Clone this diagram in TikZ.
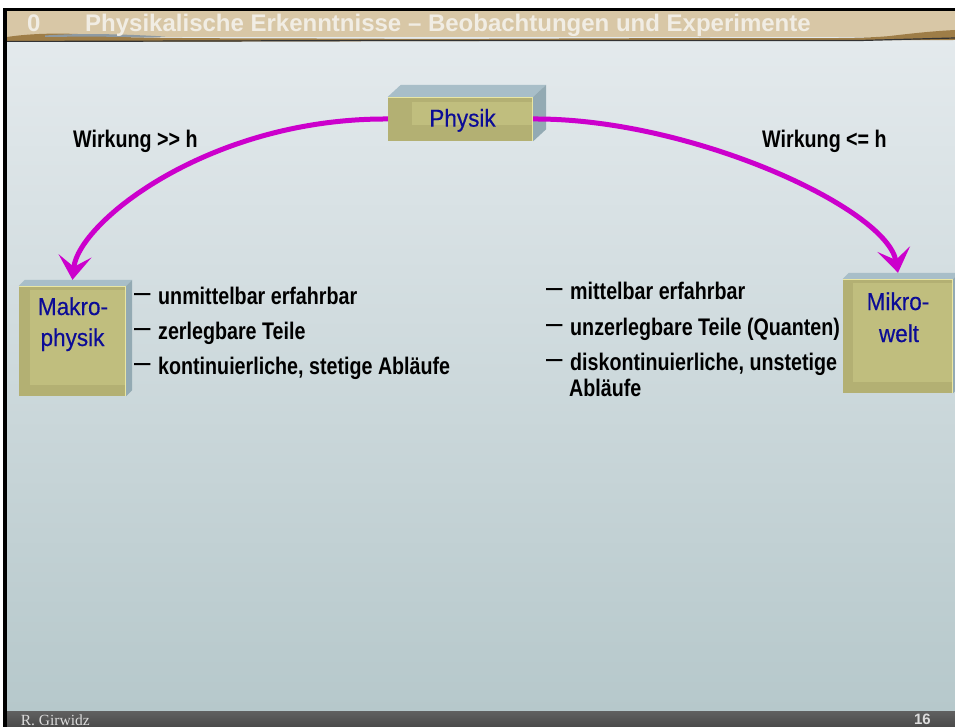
\documentclass[tikz,border=0pt]{standalone}
\usepackage{graphicx}
\usepackage{fontspec}
\setmainfont{Liberation Sans}
\newfontfamily\listfont{Liberation Sans}[FakeStretch=0.82]
\newfontfamily\boxfont{Liberation Sans}[FakeStretch=0.92,FakeBold=0.4]
\newfontfamily\footfont{Liberation Serif}
\usetikzlibrary{arrows.meta,calc}
\definecolor{bodytop}{HTML}{E4EAED}
\definecolor{bodybot}{HTML}{B6C8CB}
\definecolor{hdr}{HTML}{D8C7A6}
\definecolor{landbrown}{HTML}{9E7D47}
\definecolor{landgray}{HTML}{8E9AA2}
\definecolor{titlecol}{HTML}{F1EDE4}
\definecolor{foottop}{HTML}{606060}
\definecolor{footbot}{HTML}{4A4A4A}
\definecolor{footgray}{HTML}{DCDCDC}
\definecolor{cubefront}{HTML}{B3B073}
\definecolor{cubeinner}{HTML}{C0BE7E}
\definecolor{cubetop}{HTML}{A8BEC8}
\definecolor{cubeside}{HTML}{93AAB3}
\definecolor{cubeedge}{HTML}{E9E6A3}
\definecolor{bluetext}{HTML}{0C0C96}
\definecolor{magarrow}{HTML}{CC00CC}
\newcommand\ldash{\makebox[24pt][l]{\mdseries\raisebox{2pt}{\scalebox{1.5}[1.3]{–}}}}
\newcommand\boxfaces[6]{%
  \fill[cubetop] (#1.north west) -- ++(#2,-#3) -- ($(#1.north east)+(#2,-#3)$) -- (#1.north east) -- cycle;
  \fill[cubeside] (#1.north east) -- ++(#2,-#3) -- ($(#1.south east)+(#2,-#3)$) -- (#1.south east) -- cycle;
  \fill[cubeinner] ($(#1.north west)+(#4,#5)$) rectangle ($(#1.south east)+(0,-#6)$);
  \draw[cubeedge, line width=1pt] ($(#1.north west)+(0,0.5)$) -- ($(#1.north east)+(-0.5,0.5)$) -- ($(#1.south east)+(-0.5,0)$);
}
\tikzset{
  cubebox/.style={fill=cubefront, inner sep=0pt, draw=none, rectangle},
  bluelbl/.style={anchor=base, inner sep=0pt, text=bluetext, font=\boxfont\fontsize{24.5}{28}\selectfont},
  listitem/.style={anchor=base west, inner sep=0pt, text=black, font=\listfont\bfseries\fontsize{24}{27}\selectfont},
  arr/.style={draw=magarrow, line width=5pt, -{Stealth[length=24pt,width=33pt,inset=11pt]}},
}
\begin{document}
\begin{tikzpicture}[x=1pt,y=-1pt]
\useasboundingbox (0,0) rectangle (955,727);
\fill[white] (0,0) rectangle (955,727);
% body
\shade[top color=bodytop, bottom color=bodybot] (7,36) rectangle (955,711);
% header
\fill[hdr] (7,11) rectangle (955,37);
\fill[landbrown] (7,42) -- (7,37) .. controls (40,32) and (80,33) .. (120,37) .. controls (200,39) and (300,38) .. (420,39) -- (700,38) .. controls (800,38) and (860,39) .. (890,36) .. controls (915,33) and (935,31) .. (955,30) -- (955,40) -- (7,42) -- cycle;
\fill[landgray] (45,35.5) .. controls (80,33) and (120,34) .. (165,36.5) -- (150,37.5) .. controls (110,36.5) and (80,36.5) .. (45,37) -- cycle;
\draw[black!80, line width=1.2pt] (7,41.5) -- (400,40.5) -- (860,40.5) -- (955,38);
\fill[bodytop] (7,42) rectangle (955,43);
% footer
\shade[top color=foottop, bottom color=footbot] (7,711) rectangle (955,727);
% frame
\fill[black] (3,8) rectangle (955,11);
\fill[black] (3,8) rectangle (7,727);
% title
\node[anchor=base west, inner sep=0pt, text=titlecol, font=\bfseries\fontsize{24}{28}\selectfont] (num) at (27,32) {0};
\node[anchor=base west, inner sep=0pt, text=titlecol, font=\bfseries\fontsize{24}{28}\selectfont] (title) at (85,32) {Physikalische Erkenntnisse – Beobachtungen und Experimente};
% footer text
\node[anchor=base west, inner sep=0pt, text=footgray, font=\footfont\fontsize{15.5}{18}\selectfont] (author) at (20.7,725.3) {R. Girwidz};
\node[anchor=base east, inner sep=0pt, text=footgray, font=\bfseries\fontsize{15}{18}\selectfont] (page) at (931,724.5) {16};
% boxes
\node[cubebox, minimum width=145pt, minimum height=44pt] (physik) at (460.5,119) {};
\boxfaces{physik}{13}{12}{24}{5}{16}
\node[cubebox, minimum width=107pt, minimum height=110pt] (makro) at (72.5,341) {};
\boxfaces{makro}{6}{6}{11}{4}{11}
\node[cubebox, minimum width=110pt, minimum height=114pt] (mikro) at (898,336) {};
\boxfaces{mikro}{6}{6}{10}{4}{11}
% box labels
\node[bluelbl] (physiklbl) at (462.5,126.7) {Physik};
\node[bluelbl] (makrolblA) at (73,315) {Makro-};
\node[bluelbl] (makrolblB) at (72.5,346) {physik};
\node[bluelbl] (mikrolblA) at (898,310) {Mikro-};
\node[bluelbl] (mikrolblB) at (899,342) {welt};
% arrows
\draw[arr] (physik.west) .. controls (211,118) and (78.6,221.3) .. ([yshift=6pt]makro.north);
\draw[arr] (physik.east) .. controls (690,118) and (886.5,208) .. ([yshift=6pt]mikro.north);
% labels
\node[listitem] (wl) at (73,148) {Wirkung >> h};
\node[listitem] (wr) at (762,148) {Wirkung <= h};
% left list
\node[listitem] (la) at (134,304) {\ldash unmittelbar erfahrbar};
\node[listitem] (lb) at (134,339.5) {\ldash zerlegbare Teile};
\node[listitem] (lc) at (134,374.5) {\ldash kontinuierliche, stetige Abläufe};
% right list
\node[listitem] (ra) at (546,299) {\ldash mittelbar erfahrbar};
\node[listitem] (rb) at (546,335.5) {\ldash unzerlegbare Teile (Quanten)};
\node[listitem] (rc) at (546,370) {\ldash diskontinuierliche, unstetige};
\node[listitem] (rd) at (569,396.5) {Abläufe};
\end{tikzpicture}
\end{document}
